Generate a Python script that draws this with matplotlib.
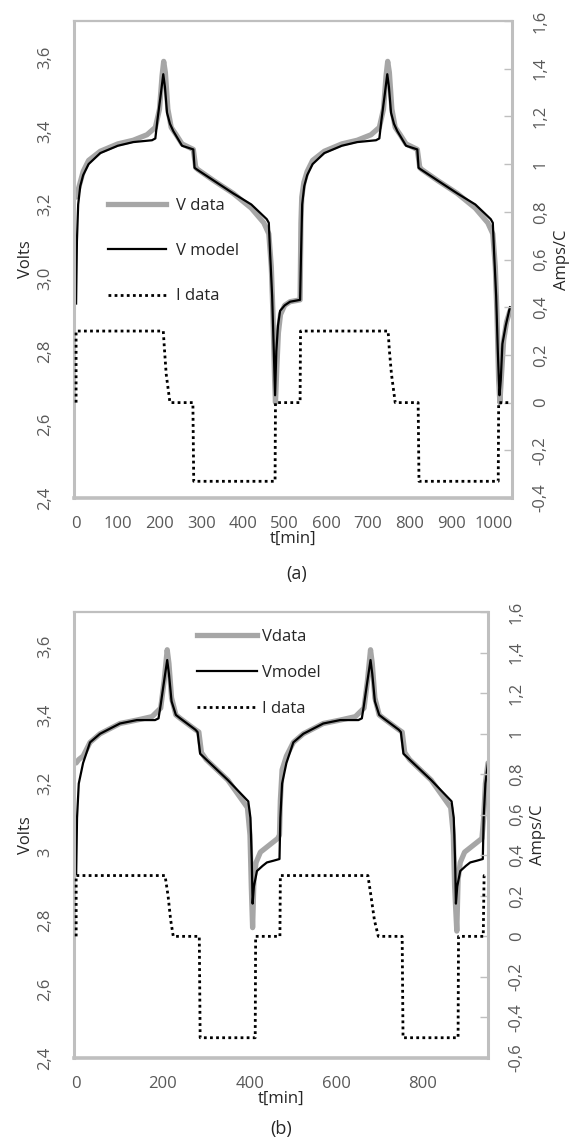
import matplotlib
matplotlib.use("Agg")
import matplotlib.pyplot as plt
from matplotlib.lines import Line2D

plt.rcParams['font.family'] = ['Open Sans', 'DejaVu Sans']

# ---- panel (a) data ----
ta_model = [0, 2, 5, 10, 17, 30, 58, 100, 137, 182, 190, 195, 203, 209, 213, 218, 225, 233, 254, 281,
            284, 290, 330, 377, 420, 457, 462, 465, 470, 474, 477, 480, 484, 489, 500, 513, 537,
            539, 542, 547, 554, 567, 595, 637, 674, 719, 727, 732, 740, 746, 750, 755, 762, 770, 791,
            818, 821, 827, 867, 914, 957, 994, 999, 1002, 1007, 1011, 1015, 1018, 1022, 1030, 1036, 1040]
va_model = [2.93, 3.10, 3.20, 3.25, 3.28, 3.31, 3.34, 3.36, 3.37, 3.375, 3.38, 3.43, 3.50, 3.555, 3.52,
            3.45, 3.42, 3.40, 3.36, 3.35, 3.30, 3.295, 3.265, 3.23, 3.20, 3.16, 3.15, 3.07, 2.95, 2.80,
            2.68, 2.80, 2.87, 2.91, 2.925, 2.935, 2.94,
            3.05, 3.20, 3.25, 3.28, 3.31, 3.34, 3.36, 3.37, 3.375, 3.38, 3.43, 3.50, 3.555, 3.52, 3.45,
            3.42, 3.40, 3.36, 3.35, 3.30, 3.295, 3.265, 3.23, 3.20, 3.16, 3.15, 3.07, 2.95, 2.80, 2.68,
            2.72, 2.82, 2.87, 2.90, 2.92]

ta_data = [0, 5, 17, 30, 58, 100, 137, 170, 190, 200, 206, 210, 214, 220, 228, 240, 254, 281, 287, 292,
           330, 377, 420, 450, 462, 468, 472, 476, 478, 481, 485, 490, 500, 513, 537,
           539, 541, 546, 554, 567, 595, 637, 674, 707, 727, 737, 743, 747, 751, 757, 765, 777, 791, 818,
           824, 829, 867, 914, 957, 987, 999, 1005, 1009, 1013, 1016, 1019, 1025, 1032, 1040]
va_data = [3.22, 3.24, 3.29, 3.32, 3.345, 3.365, 3.375, 3.39, 3.41, 3.46, 3.55, 3.59, 3.56, 3.46, 3.41,
           3.39, 3.365, 3.35, 3.30, 3.295, 3.265, 3.23, 3.19, 3.15, 3.12, 3.03, 2.90, 2.72, 2.66, 2.75,
           2.85, 2.90, 2.925, 2.935, 2.94,
           3.15, 3.22, 3.26, 3.29, 3.32, 3.345, 3.365, 3.375, 3.39, 3.41, 3.46, 3.55, 3.59, 3.56, 3.46,
           3.41, 3.39, 3.365, 3.35, 3.30, 3.295, 3.265, 3.23, 3.19, 3.15, 3.12, 3.03, 2.90, 2.72, 2.66,
           2.72, 2.83, 2.88, 2.91]

ta_i = [0, 0, 209, 212, 216, 225, 280, 282, 477, 478, 537, 538, 748, 751, 756, 765, 820, 822, 1012, 1013, 1040]
ia = [0, 0.3, 0.3, 0.22, 0.12, 0, 0, -0.33, -0.33, 0, 0, 0.3, 0.3, 0.22, 0.12, 0, 0, -0.33, -0.33, 0, 0]

# ---- panel (b) data ----
tb_model = [0, 2, 6, 16, 32, 55, 101, 140, 182, 190, 195, 203, 210, 214, 220, 230, 240, 275, 280, 286,
            300, 350, 397, 402, 405, 407, 410, 417, 430, 440, 455, 469,
            471, 475, 485, 501, 524, 570, 609, 651, 659, 664, 672, 679, 683, 689, 699, 709, 744, 749, 755,
            769, 819, 866, 871, 874, 876, 879, 886, 899, 909, 924, 938, 940, 944, 950]
vb_model = [2.936, 3.10, 3.20, 3.26, 3.32, 3.345, 3.375, 3.385, 3.385, 3.39, 3.43, 3.50, 3.56, 3.52, 3.44,
            3.40, 3.39, 3.357, 3.35, 3.287, 3.27, 3.21, 3.148, 3.10, 2.98, 2.85, 2.90, 2.945, 2.96, 2.97,
            2.975, 2.98,
            3.10, 3.20, 3.26, 3.32, 3.345, 3.375, 3.385, 3.385, 3.39, 3.43, 3.50, 3.56, 3.52, 3.44, 3.40,
            3.39, 3.357, 3.35, 3.287, 3.27, 3.21, 3.148, 3.10, 2.98, 2.85, 2.90, 2.945, 2.96, 2.97, 2.975,
            2.98, 3.10, 3.20, 3.26]

tb_data = [0, 6, 16, 32, 55, 101, 140, 175, 195, 203, 210, 214, 220, 230, 240, 275, 283, 289, 300, 350,
           395, 401, 404, 407, 410, 415, 425, 445, 465, 469,
           471, 475, 485, 501, 524, 570, 609, 644, 664, 672, 679, 683, 689, 699, 709, 744, 752, 758, 769,
           819, 864, 870, 873, 878, 881, 886, 896, 916, 936, 940, 944, 950]
vb_data = [3.26, 3.27, 3.28, 3.32, 3.345, 3.375, 3.385, 3.395, 3.42, 3.50, 3.59, 3.55, 3.45, 3.40, 3.39,
           3.357, 3.35, 3.29, 3.27, 3.21, 3.13, 3.05, 2.90, 2.78, 2.92, 2.97, 3.00, 3.02, 3.04, 3.05,
           3.15, 3.24, 3.28, 3.32, 3.345, 3.375, 3.385, 3.395, 3.42, 3.50, 3.59, 3.55, 3.45, 3.40, 3.39,
           3.357, 3.35, 3.29, 3.27, 3.21, 3.13, 3.05, 2.90, 2.77, 2.92, 2.97, 3.00, 3.02, 3.04, 3.10,
           3.20, 3.26]

tb_i = [0, 0, 205, 212, 218, 224, 284, 286, 413, 414, 470, 471, 673, 680, 688, 697, 752, 754, 881, 882, 939, 941, 950]
ib = [0, 0.3, 0.3, 0.2, 0.08, 0, 0, -0.5, -0.5, 0, 0, 0.3, 0.3, 0.2, 0.08, 0, 0, -0.5, -0.5, 0, 0, 0.3, 0.3]

# tick labels
va_ticks = [2.4, 2.6, 2.8, 3.0, 3.2, 3.4, 3.6]
va_ticklabels = ['2,4', '2,6', '2,8', '3,0', '3,2', '3,4', '3,6']
vb_ticklabels = ['2,4', '2,6', '2,8', '3', '3,2', '3,4', '3,6']
ia_ticks = [-0.4, -0.2, 0, 0.2, 0.4, 0.6, 0.8, 1.0, 1.2, 1.4, 1.6]
ia_ticklabels = ['-0,4', '-0,2', '0', '0,2', '0,4', '0,6', '0,8', '1', '1,2', '1,4', '1,6']
ib_ticks = [-0.6, -0.4, -0.2, 0, 0.2, 0.4, 0.6, 0.8, 1.0, 1.2, 1.4, 1.6]
ib_ticklabels = ['-0,6', '-0,4', '-0,2', '0', '0,2', '0,4', '0,6', '0,8', '1', '1,2', '1,4', '1,6']
xa_ticks = [0, 100, 200, 300, 400, 500, 600, 700, 800, 900, 1000]
xb_ticks = [0, 200, 400, 600, 800]

TICKC = '#595959'
LABC = '#262626'
SPC = '#bfbfbf'
GRAY = '#a6a6a6'
DOT = (0, (1, 1.2))


def panel(rect, t_d, v_d, t_m, v_m, t_i, i_v, xticks, xlim, vlabels, iticks, ilabels, ilim):
    ax = fig.add_axes(rect)
    ax.plot(t_d, v_d, color=GRAY, lw=3.8, solid_joinstyle='round', solid_capstyle='round')
    ax.plot(t_m, v_m, color='black', lw=1.6)
    ax.set_xlim(*xlim)
    ax.set_ylim(2.4, 3.7)
    ax.set_xticks(xticks)
    ax.set_yticks(va_ticks)
    ax.set_yticklabels(vlabels, rotation=90, va='center')
    ax.tick_params(axis='both', length=0, labelsize=12, colors=TICKC)
    ax.tick_params(axis='y', pad=15)
    ax.tick_params(axis='x', pad=13)
    ax.spines['right'].set_visible(False)
    ax.spines['left'].set_color(SPC)
    ax.spines['left'].set_linewidth(2.2)
    ax.spines['bottom'].set_color(SPC)
    ax.spines['bottom'].set_linewidth(2.6)
    ax.spines['top'].set_color(SPC)
    ax.spines['top'].set_linewidth(1.6)
    ax.set_ylabel('Volts', fontsize=12, color=LABC, labelpad=2)
    ax.set_xlabel('t[min]', fontsize=12, color=LABC, labelpad=-1)

    ax2 = ax.twinx()
    ax2.plot(t_i, i_v, color='black', lw=2.0, linestyle=DOT)
    ax2.set_ylim(*ilim)
    ax2.set_yticks(iticks)
    ax2.set_yticklabels(ilabels, rotation=90, va='center')
    ax2.tick_params(axis='y', direction='in', length=6, width=1, color=SPC, labelsize=12,
                    labelcolor=TICKC, pad=15)
    for s in ['left', 'top', 'bottom']:
        ax2.spines[s].set_visible(False)
    ax2.spines['right'].set_color(SPC)
    ax2.spines['right'].set_linewidth(2.2)
    ax2.set_ylabel('Amps/C', fontsize=12, color=LABC, labelpad=4)
    return ax, ax2


fig = plt.figure(figsize=(5.85, 11.46), dpi=100)
W, H = 585.0, 1146.0

# (a)
axa, axa2 = panel([74 / W, 1 - 498 / H, 438 / W, 477 / H], ta_data, va_data, ta_model, va_model,
                  ta_i, ia, xa_ticks, (-5, 1045), va_ticklabels, ia_ticks, ia_ticklabels, (-0.4, 1.6))
handles = [Line2D([], [], color=GRAY, lw=3.8),
           Line2D([], [], color='black', lw=1.6),
           Line2D([], [], color='black', lw=2.0, linestyle=DOT)]
lega = axa2.legend(handles, ['V data', 'V model', 'I data'], loc='upper left',
                   bbox_to_anchor=((108 - 74) / 438, (498 - 198) / 477), frameon=False,
                   fontsize=12, handlelength=3.5, handletextpad=0.6, labelspacing=1.75,
                   borderpad=0, borderaxespad=0)
for tx in lega.get_texts():
    tx.set_color(LABC)
fig.text(297 / W, 1 - 574 / H, '(a)', fontsize=13, color=LABC, ha='center', va='center')

# (b)
axb, axb2 = panel([74 / W, 1 - 1058 / H, 414 / W, 446 / H], tb_data, vb_data, tb_model, vb_model,
                  tb_i, ib, xb_ticks, (-5, 950), vb_ticklabels, ib_ticks, ib_ticklabels, (-0.6, 1.6))
legb = axb2.legend(handles, ['Vdata', 'Vmodel', 'I data'], loc='upper left',
                   bbox_to_anchor=((197 - 74) / 414, (1058 - 629) / 446), frameon=False,
                   fontsize=12, handlelength=3.6, handletextpad=0.3, labelspacing=1.2,
                   borderpad=0, borderaxespad=0)
for tx in legb.get_texts():
    tx.set_color(LABC)
fig.text(281 / W, 1 - 1129 / H, '(b)', fontsize=13, color=LABC, ha='center', va='center')

fig.savefig('out.png', dpi=100, facecolor='white')
